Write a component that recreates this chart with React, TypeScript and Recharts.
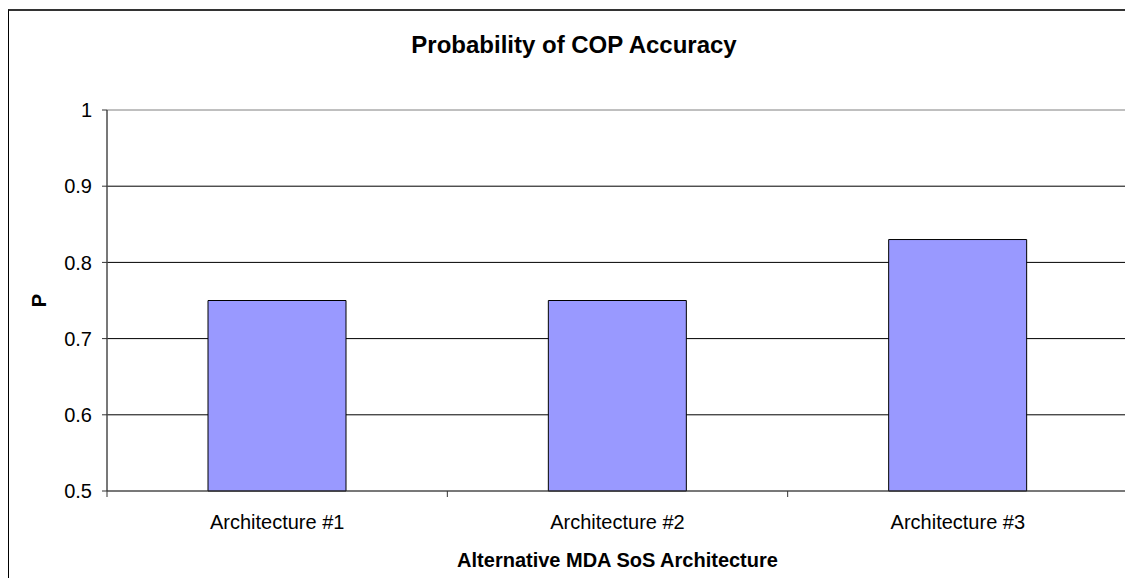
import React from "react";
import {
  BarChart,
  Bar,
  XAxis,
  YAxis,
  CartesianGrid,
  ReferenceArea,
  Label,
} from "recharts";

const architectures = ["Architecture #1", "Architecture #2", "Architecture #3"];
const probability = [0.75, 0.75, 0.83];
const yTicks = [0.5, 0.6, 0.7, 0.8, 0.9, 1];

// bars sit in the middle of each category slot, tick marks at the slot edges
const data = architectures.map((name, i) => ({ pos: i + 0.5, name, p: probability[i] }));
const xTicks = [0, 0.5, 1, 1.5, 2, 2.5, 3];

const font = "'Liberation Sans', Arial, sans-serif";

function XTick({ x, y, payload }: any) {
  const v = payload.value;
  if (Number.isInteger(v)) {
    return <line x1={x} x2={x} y1={y} y2={y + 6} stroke="#333" />;
  }
  const name = architectures[Math.floor(v)];
  return (
    <text
      x={x}
      y={y + 24}
      dy="0.71em"
      textAnchor="middle"
      style={{ fontSize: 20, fill: "#000", fontFamily: font }}
    >
      {name}
    </text>
  );
}

export default function App() {
  return (
    <div style={{ position: "relative", width: 1125, height: 570, fontFamily: font }}>
      <div
        style={{
          position: "absolute",
          left: 0,
          top: 1,
          right: 0,
          bottom: 0,
          borderLeft: "1px solid #000",
          borderTop: "2px solid #333",
        }}
      />
      <div
        style={{
          position: "absolute",
          left: 266,
          width: 600,
          top: 25,
          textAlign: "center",
          fontSize: 24,
          lineHeight: "24px",
          fontWeight: "bold",
          color: "#000",
        }}
      >
        Probability of COP Accuracy
      </div>
      <BarChart
        width={1125}
        height={570}
        data={data}
        margin={{ top: 102, right: 5, left: 0, bottom: 0 }}
        style={{ position: "absolute", left: 0, top: 0 }}
      >
        <CartesianGrid
          vertical={false}
          stroke="#000"
          horizontalValues={[0.6, 0.7, 0.8, 0.9]}
        />
        <ReferenceArea
          x1={0}
          x2={3}
          y1={0.5}
          y2={1}
          fill="none"
          stroke="#808080"
          strokeWidth={1}
        />
        <XAxis
          dataKey="pos"
          type="number"
          domain={[0, 3]}
          ticks={xTicks}
          interval={0}
          axisLine={{ stroke: "#333" }}
          tickLine={false}
          tickSize={0}
          tickMargin={0}
          height={87}
          tick={<XTick />}
        >
          <Label
            value="Alternative MDA SoS Architecture"
            position="insideBottom"
            offset={11}
            style={{ fontSize: 20, fontWeight: "bold", fill: "#000", fontFamily: font }}
          />
        </XAxis>
        <YAxis
          domain={[0.5, 1]}
          ticks={yTicks}
          width={99}
          axisLine={{ stroke: "#333" }}
          tickLine={{ stroke: "#333" }}
          tickSize={5}
          tickMargin={10}
          tick={{ fill: "#000", fontSize: 20, fontFamily: font }}
        >
          <Label
            content={({ viewBox }: any) => {
              const x = viewBox.x + 31;
              const y = viewBox.y + viewBox.height / 2;
              return (
                <text
                  x={x}
                  y={y}
                  transform={`rotate(-90, ${x}, ${y})`}
                  textAnchor="middle"
                  dominantBaseline="central"
                  style={{ fontSize: 20, fontWeight: "bold", fill: "#000", fontFamily: font }}
                >
                  P
                </text>
              );
            }}
          />
        </YAxis>
        <Bar
          dataKey="p"
          fill="#9999FF"
          stroke="#000"
          strokeWidth={1}
          barSize={138}
          isAnimationActive={false}
        />
      </BarChart>
    </div>
  );
}
